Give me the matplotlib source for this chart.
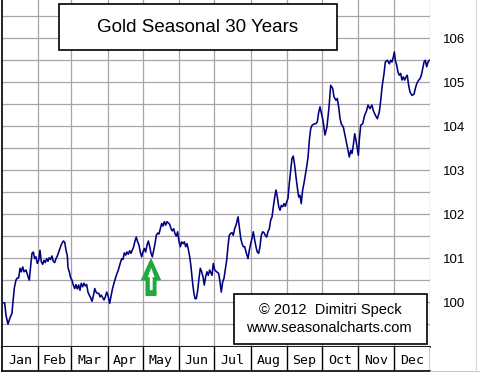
import matplotlib
matplotlib.use("Agg")
import matplotlib.pyplot as plt
from matplotlib.patches import Polygon, Rectangle
import numpy as np

# ---------------- data ----------------
months = ["Jan", "Feb", "Mar", "Apr", "May", "Jun", "Jul", "Aug", "Sep", "Oct", "Nov", "Dec"]
month_days = [31, 28, 31, 30, 31, 30, 31, 31, 30, 31, 30, 31]
y_ticks = [100, 101, 102, 103, 104, 105, 106]

day_of_year = [
    0.6, 2.3, 3.4, 5.1, 6.8, 8.5, 9.1, 10.5, 11.9, 13.0, 14.2, 15.4, 16.5, 17.7, 18.8, 20.5, 22.2, 23.3, 24.5, 25.6,
    26.7, 27.9, 29.0, 30.1, 31.3, 32.4, 33.5, 34.7, 35.8, 36.9, 38.1, 39.2, 40.3, 41.5, 42.6, 43.7, 44.9, 46.1, 47.2, 48.4,
    49.5, 50.6, 52.3, 53.5, 54.6, 55.7, 56.3, 57.4, 58.6, 59.7, 60.8, 62.0, 63.1, 64.2, 65.4, 66.5, 67.6, 68.8, 69.9, 71.0,
    72.2, 73.3, 74.4, 75.6, 76.8, 77.9, 79.1, 80.2, 81.3, 82.5, 83.6, 84.7, 85.9, 87.0, 88.1, 89.3, 90.4,
    91.8, 93.0, 94.1, 95.8, 97.5, 99.2, 100.9, 102.1, 103.2, 104.3, 105.5, 106.6, 107.7, 108.9, 110.0, 111.1, 112.3, 113.4, 114.5, 115.7,
    116.8, 117.9, 119.1, 120.2, 121.4, 122.5, 123.7, 124.8, 126.0, 127.1, 128.2, 129.4, 130.5, 131.6, 132.8, 133.9, 135.0, 136.2, 137.3, 138.4,
    139.6, 140.7, 141.8, 143.0, 144.1, 145.2, 146.4, 147.5, 148.6, 149.8, 150.9, 152.1, 153.2, 154.4, 155.5, 156.7, 157.8, 158.9, 160.1, 161.2,
    162.3, 163.5, 164.6, 165.7, 166.9, 168.0, 169.1, 170.3, 171.4, 172.5, 173.7, 174.8, 175.9, 177.1,
    179.1, 180.2, 181.4, 183.1, 184.8, 185.9, 187.0, 188.2, 189.3, 190.4, 191.6, 192.7, 193.8, 195.0, 196.1, 197.2, 198.4, 199.6, 201.3, 202.4,
    203.6, 204.7, 205.8, 207.0, 208.1, 209.8, 210.9, 212.1, 213.2, 214.3, 215.5, 216.6, 217.7, 218.9, 220.0, 221.1, 222.3, 223.4, 224.5, 225.7,
    226.8, 228.0, 229.1, 230.3, 231.4, 232.6, 233.7, 234.8, 236.0, 237.1, 238.2, 239.4, 240.5, 241.6, 242.8, 243.9, 245.0, 246.2, 247.3, 248.4,
    249.6, 250.7, 251.8, 253.0, 254.1, 255.2, 256.4, 257.5, 258.7, 259.8, 261.0, 262.1, 263.3, 264.4, 266.1, 267.8, 268.9, 270.1, 271.2,
    273.7, 275.4, 277.1, 278.9, 280.3, 282.0, 283.1, 284.8, 285.9, 287.1, 288.3, 289.4, 291.1, 292.8, 294.5, 296.2, 297.4, 298.5, 299.6, 300.8,
    301.9, 303.0, 303.9, 304.7, 305.9, 307.6, 309.3, 311.0, 312.1, 313.8, 315.5, 316.6, 318.4, 320.1, 321.8, 323.0, 324.1, 325.8, 326.9, 328.6,
    330.3, 331.5, 332.6, 333.7, 334.6, 335.4, 336.6, 337.7, 338.8, 340.0, 341.1, 342.2, 343.4, 344.5, 345.6, 346.8, 347.9, 349.6, 351.4, 352.5,
    353.7, 355.4, 356.5, 357.6, 358.8, 359.9, 361.0, 362.2, 363.3, 364.4,
]

seasonal_index = [
    99.99, 99.98, 99.70, 99.50, 99.64, 99.75, 99.93, 100.32, 100.50, 100.55, 100.55, 100.77, 100.69, 100.80, 100.69, 100.73, 100.58, 100.50, 100.84, 101.11,
    101.14, 100.99, 101.03, 100.88, 100.95, 101.18, 100.92, 100.86, 100.95, 100.90, 100.99, 100.93, 101.01, 100.97, 101.05, 100.93, 100.90, 100.99, 101.05, 101.14,
    101.22, 101.31, 101.39, 101.36, 101.18, 101.05, 100.78, 100.69, 100.55, 100.50, 100.39, 100.31, 100.40, 100.30, 100.39, 100.27, 100.43, 100.35, 100.43, 100.37,
    100.40, 100.23, 100.16, 100.10, 100.02, 100.14, 100.31, 100.23, 100.20, 100.20, 100.12, 100.16, 100.10, 100.05, 100.12, 100.23, 100.15,
    99.97, 100.14, 100.29, 100.46, 100.61, 100.73, 100.89, 100.99, 100.97, 101.12, 101.07, 101.14, 101.09, 101.17, 101.11, 101.18, 101.26, 101.39, 101.48, 101.37,
    101.30, 101.14, 101.03, 101.14, 101.22, 101.14, 101.30, 101.39, 101.26, 101.11, 101.03, 101.18, 101.33, 101.52, 101.57, 101.55, 101.67, 101.79, 101.73, 101.83,
    101.75, 101.83, 101.80, 101.77, 101.67, 101.62, 101.67, 101.56, 101.50, 101.60, 101.39, 101.26, 101.37, 101.33, 101.37, 101.26, 101.33, 101.20, 101.03, 100.80,
    100.50, 100.23, 100.08, 100.08, 100.27, 100.54, 100.77, 100.69, 100.58, 100.39, 100.58, 100.69, 100.61, 100.73,
    100.61, 100.88, 100.73, 100.69, 100.65, 100.46, 100.23, 100.46, 100.54, 100.73, 100.95, 101.26, 101.52, 101.56, 101.58, 101.52, 101.67, 101.75, 101.94, 101.71,
    101.45, 101.33, 101.26, 101.26, 101.14, 100.99, 101.18, 101.33, 101.45, 101.60, 101.41, 101.26, 101.14, 101.11, 101.26, 101.52, 101.60, 101.58, 101.52, 101.48,
    101.60, 101.67, 101.86, 101.94, 102.17, 102.39, 102.55, 102.39, 102.17, 102.09, 102.20, 102.17, 102.24, 102.18, 102.28, 102.36, 102.70, 103.00, 103.27, 103.32,
    103.11, 102.85, 102.62, 102.39, 102.43, 102.24, 102.55, 102.70, 102.89, 103.07, 103.30, 103.68, 103.95, 104.02, 104.05, 104.06, 104.10, 104.32, 104.44,
    104.14, 103.80, 103.98, 104.44, 104.93, 104.86, 104.67, 104.59, 104.63, 104.44, 104.17, 104.05, 103.98, 103.76, 103.53, 103.30, 103.45, 103.38, 103.57, 103.83,
    103.68, 103.49, 103.34, 103.68, 104.02, 104.06, 104.25, 104.36, 104.48, 104.40, 104.48, 104.36, 104.25, 104.17, 104.33, 104.59, 104.89, 105.20, 105.46, 105.50,
    105.42, 105.50, 105.46, 105.57, 105.69, 105.50, 105.39, 105.23, 105.16, 105.20, 105.05, 105.12, 105.05, 105.12, 105.16, 104.93, 104.78, 104.70, 104.73, 104.86,
    104.97, 105.05, 105.08, 105.16, 105.31, 105.46, 105.50, 105.35, 105.46, 105.50,
]

title_text = "Gold Seasonal 30 Years"
credit_lines = ["\u00a9 2012  Dimitri Speck", "www.seasonalcharts.com"]

# ---------------- figure ----------------
W, H = 481, 380
fig = plt.figure(figsize=(W / 100, H / 100), dpi=100)
fig.patch.set_facecolor("white")


def fx(px):
    return px / W


def fy(py):
    return 1 - py / H


ax_left, ax_right, ax_top, ax_bot = 2, 430, 0, 347
ax = fig.add_axes([fx(ax_left), fy(ax_bot), (ax_right - ax_left) / W, (ax_bot - ax_top) / H])

bounds = np.concatenate([[0], np.cumsum(month_days)])
grid_color = "#aaa4aa"
for b in bounds[1:]:
    ax.axvline(b, color=grid_color, lw=0.9, zorder=1)
for g in np.arange(99.0, 107.0, 0.5):
    ax.axhline(g, color=grid_color, lw=0.9, zorder=1)

ax.plot(day_of_year, seasonal_index, color="#000080", lw=1.15, zorder=3)

ax.set_xlim(0, 365)
ax.set_ylim(98.98, 106.87)
ax.set_xticks([])
ax.set_yticks(y_ticks)
ax.yaxis.tick_right()
ax.tick_params(axis="y", length=0, pad=9, labelsize=9.5)
for lab in ax.get_yticklabels():
    lab.set_fontfamily("Liberation Sans")
for s in ["top", "right"]:
    ax.spines[s].set_visible(False)
ax.spines["left"].set_color("black")
ax.spines["left"].set_linewidth(1.2)
ax.spines["bottom"].set_color("black")
ax.spines["bottom"].set_linewidth(1.2)

# month band
band = fig.add_axes([fx(ax_left), fy(371), (ax_right - ax_left) / W, (371 - ax_bot) / H])
band.set_xlim(0, 365)
band.set_ylim(0, 1)
band.set_xticks([])
band.set_yticks([])
for s in ["top", "right"]:
    band.spines[s].set_visible(False)
band.spines["left"].set_linewidth(1.2)
band.spines["bottom"].set_linewidth(1.2)
for b in bounds[1:]:
    band.axvline(b, color="black", lw=1.0)
for i, m in enumerate(months):
    band.text((bounds[i] + bounds[i + 1]) / 2, 0.45, m, ha="center", va="center",
              fontsize=9.5, family="DejaVu Sans Mono", color="black")

# extra frame lines (faint) on the right/bottom
fig.add_artist(plt.Line2D([fx(430), fx(481)], [fy(371), fy(371)], color="#c8c8c8", lw=0.8))
fig.add_artist(plt.Line2D([fx(476), fx(476)], [fy(0), fy(371)], color="#d8d8d8", lw=0.8))

# title box
fig.add_artist(Rectangle((fx(59), fy(50)), fx(337) - fx(59), fy(4) - fy(50),
                         facecolor="white", edgecolor="black", lw=1.2, zorder=5))
fig.text(fx(198), fy(27.5), title_text, ha="center", va="center", fontsize=13.5,
         family="Liberation Sans", zorder=6)

# credit box
fig.add_artist(Rectangle((fx(234), fy(344)), fx(427) - fx(234), fy(294) - fy(344),
                         facecolor="white", edgecolor="black", lw=1.2, zorder=5))
fig.text(fx(330), fy(310), credit_lines[0], ha="center", va="center", fontsize=10.5,
         family="Liberation Sans", zorder=6)
fig.text(fx(329), fy(328), credit_lines[1], ha="center", va="center", fontsize=10.5,
         family="Liberation Sans", zorder=6)

# green arrow
outer = [(151, 259), (160.5, 280), (156, 280), (156, 295.5), (146, 295.5), (146, 280), (141.5, 280)]
inner = [(151.2, 268.5), (154.3, 277), (152.4, 277), (152.4, 290), (150.0, 290), (150.0, 277), (148.1, 277)]
fig.add_artist(Polygon([(fx(a), fy(b)) for a, b in outer], closed=True, facecolor="#21a83f",
                       edgecolor="#21a83f", lw=0.8, zorder=7))
fig.add_artist(Polygon([(fx(a), fy(b)) for a, b in inner], closed=True, facecolor="white",
                       edgecolor="white", lw=0.3, zorder=8))

fig.savefig("out.png", dpi=100, facecolor="white")
